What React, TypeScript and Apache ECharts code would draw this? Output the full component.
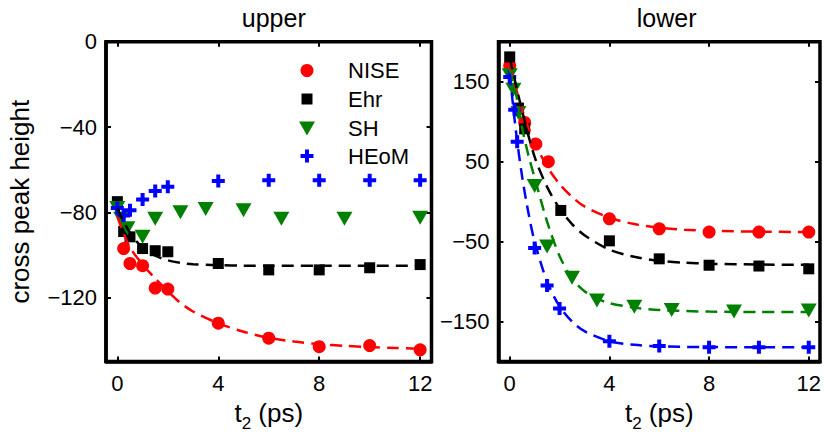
import { useEffect, useRef } from 'react';
import * as echarts from 'echarts';

const FONT = '"Liberation Sans", Arial, Helvetica, sans-serif';

// axis ticks
const xTicks = [0, 4, 8, 12];
const upperYTicks = [0, -40, -80, -120];
const lowerYTicks = [150, 50, -50, -150];

// ---- upper cross peak: measured points ----
const upperNiseT = [0.25, 0.5, 1, 1.5, 2, 4, 6, 8, 10, 12];
const upperNise = [-97, -104, -105, -115.5, -116, -132, -139, -143, -142.5, -144.5];
const upperEhrT = [0, 0.25, 0.5, 1, 1.5, 2, 4, 6, 8, 10, 12];
const upperEhr = [-75, -89, -91.5, -97, -98, -98.5, -104, -107, -107, -106, -104.5];
const upperShT = [0, 0.15, 0.4, 1, 1.5, 2.5, 3.5, 5, 6.5, 9, 12];
const upperSh = [-78, -83, -87.5, -91.5, -83, -80, -78.5, -79, -83, -83, -82.5];
const upperHeomT = [0, 0.25, 0.5, 1, 1.5, 2, 4, 6, 8, 10, 12];
const upperHeom = [-78, -81.5, -79, -74, -70, -68, -65.3, -65, -65, -65, -65];

// ---- upper cross peak: fitted decays ----
const upperNiseFitT = [0, 0.25, 0.5, 1, 1.5, 2, 2.5, 3, 4, 5, 6, 7, 8, 9, 10, 11, 12];
const upperNiseFit = [-82, -90, -96.5, -104.5, -111, -117, -122.5, -126.5, -132, -136, -138.8, -140.6, -141.8, -142.6, -143.2, -143.6, -144];
const upperEhrFitT = [0, 0.25, 0.5, 0.75, 1, 1.5, 2, 2.5, 3, 4, 5, 6, 8, 10, 12];
const upperEhrFit = [-78, -84.5, -89.5, -93.5, -96.5, -100.3, -102.5, -103.7, -104.3, -104.8, -105, -105, -105, -105, -105];

// ---- lower cross peak: measured points ----
const lowerNiseT = [0, 0.6, 1.05, 1.55, 4, 6, 8, 10, 12];
const lowerNise = [170, 99, 72, 50, -21.5, -34, -38, -38, -38];
const lowerEhrT = [0, 0.35, 0.6, 2.05, 4, 6, 8, 10, 12];
const lowerEhr = [181, 117, 91, -11, -49, -71.5, -79.5, -80.5, -84];
const lowerShT = [0, 0.15, 0.35, 1, 1.5, 2.5, 3.5, 5, 6.5, 9, 12];
const lowerSh = [158, 140, 111, 19.5, -56, -95, -123.5, -131.5, -135.5, -137.5, -136];
const lowerHeomT = [0, 0.2, 0.3, 1, 1.5, 2, 4, 6, 8, 10, 12];
const lowerHeom = [156, 115, 75, -58, -105, -133.5, -174.5, -180.5, -182, -182, -182];

// ---- lower cross peak: fitted decays ----
const lowerNiseFitT = [0, 0.5, 1, 1.5, 2, 2.5, 3, 4, 5, 6, 7, 8, 10, 12];
const lowerNiseFit = [170, 115, 74, 44, 22, 6, -6, -20, -28, -32.5, -35, -36.5, -37.5, -38];
const lowerEhrFitT = [0, 0.5, 1, 1.5, 2, 2.5, 3, 4, 5, 6, 7, 8, 10, 12];
const lowerEhrFit = [180, 113, 56, 18.5, -8.5, -28, -42, -60, -69, -74, -76.3, -77.6, -78.6, -79];
const lowerShFitT = [0, 0.25, 0.5, 0.75, 1, 1.5, 2, 2.5, 3, 3.5, 4, 5, 6, 8, 10, 12];
const lowerShFit = [165, 135, 92, 58, 30, -25, -68, -96, -112, -121, -127, -132.5, -135.5, -137.5, -138, -138];
const lowerHeomFitT = [0, 0.25, 0.5, 0.75, 1, 1.5, 2, 2.5, 3, 4, 5, 6, 8, 10, 12];
const lowerHeomFit = [160, 88, 31, -14, -50, -100, -131, -150, -162, -174.5, -179, -181, -181.8, -182, -182];

const seriesNames = ['NISE', 'Ehr', 'SH', 'HEoM'];
const colors = ['#ff0000', '#000000', '#008000', '#0000ff'];

const SQUARE = 'path://M0,0H10V10H0Z';
const TRI_DOWN = 'path://M0,0H16L8,14Z';
const PLUS = 'path://M4.5,0H8.5V4.5H13V8.5H8.5V13H4.5V8.5H0V4.5H4.5Z';
const symbols = ['circle', SQUARE, TRI_DOWN, PLUS];
const symbolSizes: any[] = [13, 11, [16, 14], 13];
// drawn size of each legend marker (width, height)
const legendMarkW = [13, 11, 16, 13];
const legendMarkH = [13, 11, 14, 13];

const pairs = (t: number[], v: number[]) => t.map((x, i) => [x, v[i]]);
const minus = (v: number) => String(v).replace('-', '\u2212');

export default function App() {
  const ref = useRef<HTMLDivElement>(null);

  useEffect(() => {
    if (!ref.current) return;
    const chart = echarts.init(ref.current, null, { renderer: 'svg' });

    const tickStyle = { color: '#000', width: 2 };
    const labelStyle = { fontSize: 22, color: '#000', fontFamily: FONT };
    const frameWidth = 3.5;

    const grids = [
      { left: 106, top: 41.7, width: 325.5, height: 325.3 },
      { left: 498.5, top: 41.7, width: 326.2, height: 325.3 },
    ].map((g) => ({ ...g, show: true, borderColor: '#000', borderWidth: frameWidth, backgroundColor: 'transparent' }));

    const xName = {
      name: '{a|t}{b|2}{a| (ps)}',
      nameLocation: 'middle',
      nameGap: 27,
      nameTextStyle: {
        rich: {
          a: { fontSize: 26, fontFamily: FONT, color: '#000', lineHeight: 26, verticalAlign: 'top' },
          b: { fontSize: 17, fontFamily: FONT, color: '#000', lineHeight: 17, verticalAlign: 'top', padding: [15.5, 0, 0, 0] },
        },
      },
    };

    const bottomX = (gridIndex: number) => ({
      type: 'value', gridIndex, min: -0.45, max: 12.45, position: 'bottom',
      axisLine: { show: true, onZero: false, lineStyle: { color: '#000', width: frameWidth } },
      axisTick: { show: true, inside: true, length: 5, customValues: xTicks, lineStyle: tickStyle },
      axisLabel: { show: true, customValues: xTicks, margin: 11, ...labelStyle },
      splitLine: { show: false },
      ...xName,
    });
    const topX = (gridIndex: number) => ({
      type: 'value', gridIndex, min: -0.45, max: 12.45, position: 'top',
      axisLine: { show: false, onZero: false },
      axisTick: { show: true, inside: true, length: 5, customValues: xTicks, lineStyle: tickStyle },
      axisLabel: { show: false },
      splitLine: { show: false },
    });
    const leftY = (gridIndex: number, min: number, max: number, ticks: number[], extra: any = {}) => ({
      type: 'value', gridIndex, min, max, position: 'left',
      axisLine: { show: true, onZero: false, lineStyle: { color: '#000', width: frameWidth } },
      axisTick: { show: true, inside: true, length: 5, customValues: ticks, lineStyle: tickStyle },
      axisLabel: { show: true, customValues: ticks, margin: 9, formatter: minus, ...labelStyle },
      splitLine: { show: false },
      ...extra,
    });
    const rightY = (gridIndex: number, min: number, max: number, ticks: number[]) => ({
      type: 'value', gridIndex, min, max, position: 'right',
      axisLine: { show: false, onZero: false },
      axisTick: { show: true, inside: true, length: 5, customValues: ticks, lineStyle: tickStyle },
      axisLabel: { show: false },
      splitLine: { show: false },
    });

    const upperPoints = [
      pairs(upperNiseT, upperNise),
      pairs(upperEhrT, upperEhr),
      pairs(upperShT, upperSh),
      pairs(upperHeomT, upperHeom),
    ];
    const lowerPoints = [
      pairs(lowerNiseT, lowerNise),
      pairs(lowerEhrT, lowerEhr),
      pairs(lowerShT, lowerSh),
      pairs(lowerHeomT, lowerHeom),
    ];
    const upperFits: (number[][] | null)[] = [
      pairs(upperNiseFitT, upperNiseFit),
      pairs(upperEhrFitT, upperEhrFit),
      null,
      null,
    ];
    const lowerFits = [
      pairs(lowerNiseFitT, lowerNiseFit),
      pairs(lowerEhrFitT, lowerEhrFit),
      pairs(lowerShFitT, lowerShFit),
      pairs(lowerHeomFitT, lowerHeomFit),
    ];

    const series: any[] = [];
    const addPanel = (axis: number, points: number[][][], fits: (number[][] | null)[]) => {
      points.forEach((data, i) => {
        series.push({
          type: 'scatter', name: seriesNames[i], xAxisIndex: axis, yAxisIndex: axis,
          data, symbol: symbols[i], symbolSize: symbolSizes[i],
          itemStyle: { color: colors[i], opacity: 1 }, z: 2,
        });
      });
      fits.forEach((data, i) => {
        if (!data) return;
        series.push({
          type: 'line', name: seriesNames[i] + ' fit', xAxisIndex: axis, yAxisIndex: axis,
          data, showSymbol: false, smooth: 0.3,
          lineStyle: { color: colors[i], width: 2.5, type: [12, 7] }, z: 3,
        });
      });
    };
    addPanel(0, upperPoints, upperFits);
    addPanel(1, lowerPoints, lowerFits);

    // one legend block per entry, markers centred on a common column
    const legendMarkX = 307;
    const legendRowY = [70, 98.5, 128, 155.5];
    const legend = seriesNames.map((name, i) => ({
      left: legendMarkX - legendMarkW[i] / 2,
      top: legendRowY[i] - 10.5,
      padding: 0,
      itemWidth: 72,
      itemHeight: legendMarkH[i],
      selectedMode: false,
      data: [{ name, icon: symbols[i] }],
      textStyle: { fontSize: 22, color: '#000', fontFamily: FONT },
    }));

    const titleStyle = { fontSize: 25, fontWeight: 'normal', color: '#000', fontFamily: FONT };

    chart.setOption({
      animation: false,
      backgroundColor: '#ffffff',
      textStyle: { fontFamily: FONT },
      title: [
        { text: 'upper', left: 268.75, top: 0, textAlign: 'center', textStyle: titleStyle },
        { text: 'lower', left: 661.6, top: 0, textAlign: 'center', textStyle: titleStyle },
      ],
      legend,
      grid: grids,
      xAxis: [bottomX(0), bottomX(1), topX(0), topX(1)],
      yAxis: [
        leftY(0, -150, 0, upperYTicks, {
          name: 'cross peak height', nameLocation: 'middle', nameRotate: 90, nameGap: 73,
          nameTextStyle: { fontSize: 26, color: '#000', fontFamily: FONT },
        }),
        leftY(1, -200, 200, lowerYTicks),
        rightY(0, -150, 0, upperYTicks),
        rightY(1, -200, 200, lowerYTicks),
      ],
      series,
    });

    return () => chart.dispose();
  }, []);

  return <div ref={ref} style={{ position: 'absolute', left: 0, top: 0, width: 824, height: 437 }} />;
}
